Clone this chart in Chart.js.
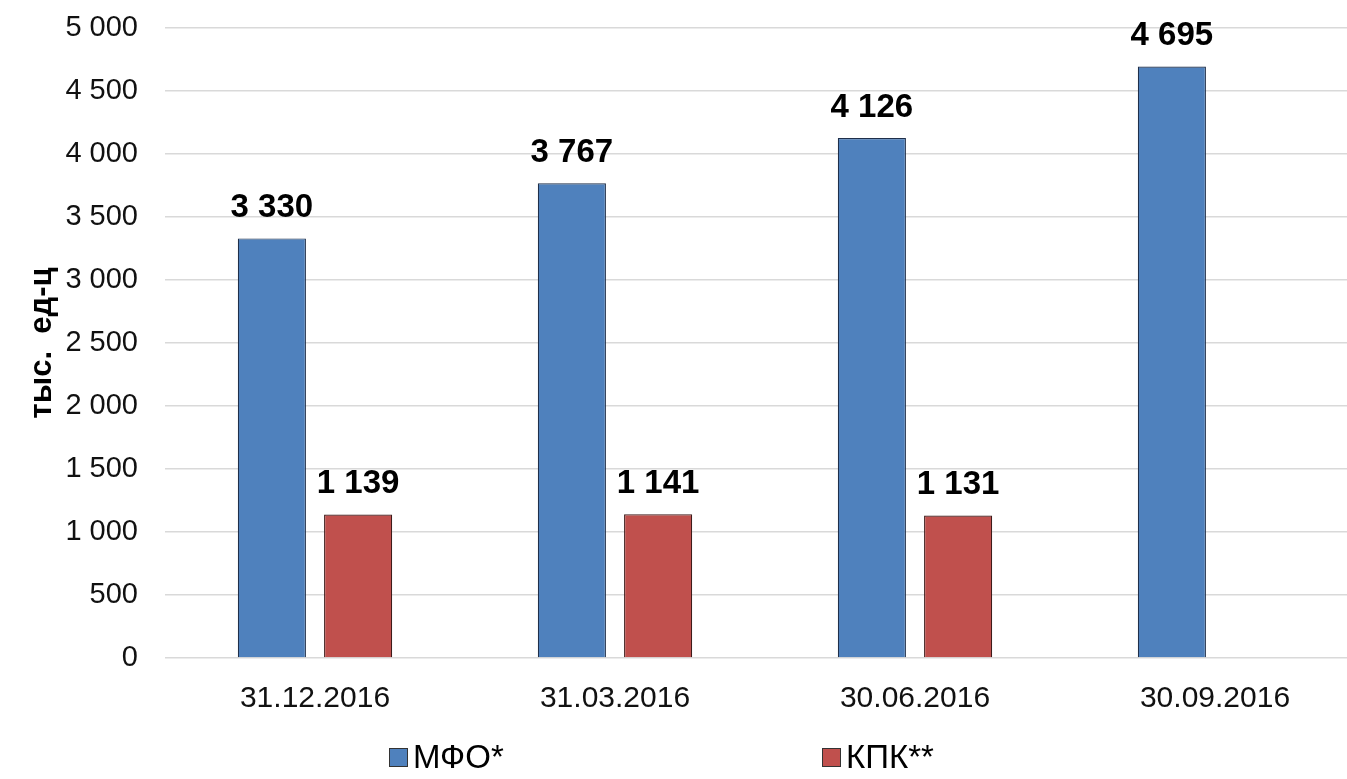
<!DOCTYPE html>
<html>
<head>
<meta charset="utf-8">
<script src="https://cdn.jsdelivr.net/npm/chart.js@4"></script>
<style>
    html, body { margin: 0; padding: 0; background: #fff; overflow: hidden; }
    #wrap { position: relative; width: 1347px; height: 779px; overflow: hidden; }
    #wrap canvas { position: absolute; left: 0; top: 0; }
    .leg { position: absolute; top: 738px; font-family: "Liberation Sans", Arial, sans-serif; font-size: 33px; color: #000; line-height: 38px; white-space: nowrap; }
    .leg i { display: inline-block; width: 17px; height: 17px; border: 1px solid #333; margin-right: 5px; vertical-align: 1px; }
</style>
</head>
<body>
<div id="wrap">
    <canvas id="mfoChart" width="1365" height="779"></canvas>
    <div class="leg" style="left:389px"><i style="background:#4F81BD"></i>МФО*</div>
    <div class="leg" style="left:822px"><i style="background:#C0504D"></i>КПК**</div>
</div>
<script>
var dates = ['31.12.2016', '31.03.2016', '30.06.2016', '30.09.2016'];
var mfo = [3330, 3767, 4126, 4695];
var kpk = [1139, 1141, 1131, null];
var yTicks = [0, 500, 1000, 1500, 2000, 2500, 3000, 3500, 4000, 4500, 5000];

function fmt(v) {
    return String(v).replace(/\B(?=(\d{3})+(?!\d))/g, ' ');
}

// value labels above bars
const valueLabels = {
    id: 'valueLabels',
    afterDatasetsDraw(chart) {
        const ctx = chart.ctx;
        ctx.save();
        ctx.font = 'bold 33px "Liberation Sans", Arial, sans-serif';
        ctx.fillStyle = '#000';
        ctx.textAlign = 'center';
        ctx.textBaseline = 'alphabetic';
        chart.data.datasets.forEach(function (ds, i) {
            chart.getDatasetMeta(i).data.forEach(function (bar, j) {
                if (ds.data[j] == null) return;
                ctx.fillText(fmt(ds.data[j]), bar.x, bar.y - 21);
            });
        });
        ctx.restore();
    }
};

var mfoChart;

function init_chart() {
    const ctx = document.getElementById('mfoChart').getContext('2d');
    mfoChart = new Chart(ctx, {
        type: 'bar',
        data: {
            labels: dates,
            datasets: [
                {
                    label: 'МФО*',
                    data: mfo,
                    backgroundColor: '#4F81BD',
                    borderColor: '#1F2F4A',
                    borderWidth: 1.2,
                    categoryPercentage: 0.575,
                    barPercentage: 0.79
                },
                {
                    label: 'КПК**',
                    data: kpk,
                    backgroundColor: '#C0504D',
                    borderColor: '#3E1C1B',
                    borderWidth: 1.2,
                    categoryPercentage: 0.575,
                    barPercentage: 0.79
                }
            ]
        },
        options: {
            responsive: false,
            animation: false,
            layout: {
                padding: { left: 0, right: 0, top: 28, bottom: 61 }
            },
            plugins: {
                legend: { display: false },
                tooltip: { enabled: false }
            },
            scales: {
                x: {
                    grid: { display: false },
                    border: { display: false },
                    ticks: {
                        color: '#111',
                        padding: 15,
                        font: { family: '"Liberation Sans", Arial, sans-serif', size: 30 }
                    },
                    afterFit: function (scale) { scale.height = 60; }
                },
                y: {
                    min: 0,
                    max: 5000,
                    afterBuildTicks: function (scale) {
                        scale.ticks = yTicks.map(function (v) { return { value: v }; });
                    },
                    // invisible tick marks keep the labels away from the plot
                    grid: { color: '#D9D9D9', lineWidth: 1.5, drawTicks: true, tickLength: 27, tickColor: 'rgba(0,0,0,0)' },
                    border: { display: false },
                    ticks: {
                        color: '#111',
                        padding: 0,
                        font: { family: '"Liberation Sans", Arial, sans-serif', size: 29 }
                    },
                    title: {
                        display: true,
                        text: 'тыс.  ед-ц',
                        color: '#000',
                        padding: { top: 24, bottom: 0 },
                        font: { family: '"Liberation Sans", Arial, sans-serif', size: 31, weight: 'bold' }
                    },
                    afterFit: function (scale) { scale.width = 165; }
                }
            }
        },
        plugins: [valueLabels]
    });
    mfoChart.options.scales.y.ticks.callback = function (v) { return fmt(v); };
    mfoChart.update();
}

init_chart();
</script>
</body>
</html>
